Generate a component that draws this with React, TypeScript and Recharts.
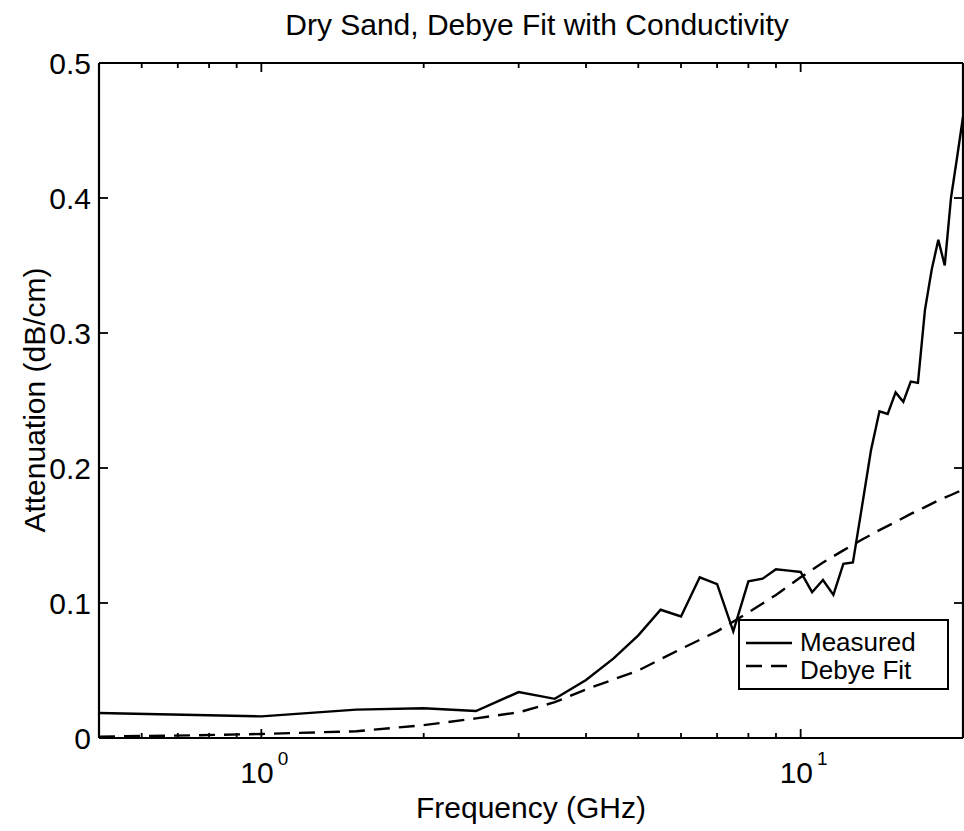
import React from 'react';
import { LineChart, Line, XAxis, YAxis, Legend } from 'recharts';

const measuredFreq = [0.5, 1, 1.5, 2, 2.5, 3, 3.5, 4, 4.5, 5, 5.5, 6, 6.5, 7, 7.5, 8, 8.5, 9, 9.5, 10, 10.5, 11, 11.5, 12, 12.5, 13, 13.5, 14, 14.5, 15, 15.5, 16, 16.5, 17, 17.5, 18, 18.5, 19, 19.5, 20];
const measuredAtt = [0.0185, 0.016, 0.021, 0.022, 0.02, 0.034, 0.029, 0.043, 0.059, 0.076, 0.095, 0.09, 0.119, 0.114, 0.079, 0.116, 0.118, 0.125, 0.124, 0.123, 0.108, 0.117, 0.106, 0.129, 0.13, 0.172, 0.213, 0.242, 0.24, 0.256, 0.249, 0.264, 0.263, 0.317, 0.347, 0.369, 0.35, 0.4, 0.43, 0.46];

const debyeFreq = [0.5, 0.75, 1, 1.5, 2, 2.5, 3, 3.5, 4, 5, 6, 7, 8, 9, 10, 11, 12, 13, 14, 15, 16, 17, 18, 19, 20];
const debyeAtt = [0.001, 0.002, 0.003, 0.005, 0.0095, 0.0145, 0.019, 0.0265, 0.036, 0.05, 0.066, 0.079, 0.093, 0.106, 0.119, 0.13, 0.139, 0.147, 0.154, 0.16, 0.166, 0.171, 0.176, 0.18, 0.184];

const xTicks = [0.6, 0.7, 0.8, 0.9, 1, 2, 3, 4, 5, 6, 7, 8, 9, 10];
const xMajor = [1, 10];
const xMajorExp = ['0', '1'];
const yTicks = [0, 0.1, 0.2, 0.3, 0.4, 0.5];
const yTickLabels = ['0', '0.1', '0.2', '0.3', '0.4', '0.5'];

const title = 'Dry Sand, Debye Fit with Conductivity';
const xTitle = 'Frequency (GHz)';
const yTitle = 'Attenuation (dB/cm)';
const seriesNames = ['Measured', 'Debye Fit'];

const measuredData = measuredFreq.map((f, i) => ({ f, v: measuredAtt[i] }));
const debyeData = debyeFreq.map((f, i) => ({ f, v: debyeAtt[i] }));

const FONT = '"Liberation Sans", Arial, Helvetica, sans-serif';

const BottomTick = (props: any) => {
  const { x, y, payload } = props;
  const idx = xMajor.indexOf(payload.value);
  const major = idx >= 0;
  return (
    <g>
      <line x1={x} x2={x} y1={y} y2={y - (major ? 9 : 5)} stroke="#000" strokeWidth={1.8} />
      {major && (
        <text x={x + 3} y={y + 45} textAnchor="middle" fill="#000" fontFamily={FONT} fontSize={30}>
          <tspan>10</tspan>
          <tspan dx={4} dy={-18} fontSize={19}>{xMajorExp[idx]}</tspan>
        </text>
      )}
    </g>
  );
};

const TopTick = (props: any) => {
  const { x, y, payload } = props;
  const major = xMajor.indexOf(payload.value) >= 0;
  return <line x1={x} x2={x} y1={y} y2={y + (major ? 9 : 5)} stroke="#000" strokeWidth={1.8} />;
};

const LeftTick = (props: any) => {
  const { x, y, payload, index } = props;
  return (
    <g>
      <line x1={x} x2={x + 9} y1={y} y2={y} stroke="#000" strokeWidth={1.8} />
      <text x={x - 8} y={y + 11} textAnchor="end" fill="#000" fontFamily={FONT} fontSize={30}>
        {yTickLabels[yTicks.indexOf(payload.value)] ?? yTickLabels[index]}
      </text>
    </g>
  );
};

const RightTick = (props: any) => {
  const { x, y } = props;
  return <line x1={x} x2={x - 9} y1={y} y2={y} stroke="#000" strokeWidth={1.8} />;
};

const LegendBox = () => (
  <svg width={211} height={71} style={{ display: 'block' }}>
    <rect x={1} y={1} width={209} height={69} fill="#fff" stroke="#000" strokeWidth={2} />
    <line x1={8} x2={54} y1={24} y2={24} stroke="#000" strokeWidth={2.4} />
    <line x1={8} x2={54} y1={47} y2={47} stroke="#000" strokeWidth={2.4} strokeDasharray="16 9" />
    <text x={62} y={32} fontFamily={FONT} fontSize={26} fill="#000">{seriesNames[0]}</text>
    <text x={62} y={60} fontFamily={FONT} fontSize={26} fill="#000">{seriesNames[1]}</text>
  </svg>
);

export default function App() {
  return (
    <div style={{ width: 964, height: 831, background: '#fff', position: 'relative' }}>
      <style>{`body{margin:0;background:#fff}`}</style>
      <LineChart width={964} height={831} margin={{ top: 62, right: 0, bottom: 0, left: 0 }}>
        <XAxis
          xAxisId="bottom"
          dataKey="f"
          type="number"
          scale="log"
          domain={[0.5, 20]}
          allowDataOverflow
          ticks={xTicks}
          interval={0}
          height={93}
          tickSize={0}
          tickMargin={0}
          tickLine={false}
          axisLine={{ stroke: '#000', strokeWidth: 2.2 }}
          tick={<BottomTick />}
          label={{
            content: () => (
              <text x={531} y={818} textAnchor="middle" fill="#000" fontFamily={FONT} fontSize={30}>
                {xTitle}
              </text>
            ),
          }}
        />
        <XAxis
          xAxisId="top"
          orientation="top"
          dataKey="f"
          type="number"
          scale="log"
          domain={[0.5, 20]}
          allowDataOverflow
          ticks={xTicks}
          interval={0}
          height={1}
          tickSize={0}
          tickMargin={0}
          tickLine={false}
          axisLine={{ stroke: '#000', strokeWidth: 2.2 }}
          tick={<TopTick />}
          label={{
            content: () => (
              <text x={537} y={35} textAnchor="middle" fill="#000" fontFamily={FONT} fontSize={30}>
                {title}
              </text>
            ),
          }}
        />
        <YAxis
          yAxisId="left"
          type="number"
          domain={[0, 0.5]}
          allowDataOverflow
          ticks={yTicks}
          interval={0}
          width={99}
          tickSize={0}
          tickMargin={0}
          tickLine={false}
          axisLine={{ stroke: '#000', strokeWidth: 2.2 }}
          tick={<LeftTick />}
          label={{
            content: () => (
              <text
                x={45}
                y={400}
                transform="rotate(-90 45 400)"
                textAnchor="middle"
                fill="#000"
                fontFamily={FONT}
                fontSize={30}
              >
                {yTitle}
              </text>
            ),
          }}
        />
        <YAxis
          yAxisId="right"
          orientation="right"
          type="number"
          domain={[0, 0.5]}
          allowDataOverflow
          ticks={yTicks}
          interval={0}
          width={1}
          tickSize={0}
          tickMargin={0}
          tickLine={false}
          axisLine={{ stroke: '#000', strokeWidth: 2.2 }}
          tick={<RightTick />}
        />
        <Line
          xAxisId="bottom"
          yAxisId="left"
          data={measuredData}
          dataKey="v"
          name={seriesNames[0]}
          type="linear"
          stroke="#000"
          strokeWidth={2.4}
          dot={false}
          isAnimationActive={false}
        />
        <Line
          xAxisId="bottom"
          yAxisId="left"
          data={debyeData}
          dataKey="v"
          name={seriesNames[1]}
          type="linear"
          stroke="#000"
          strokeWidth={2.4}
          strokeDasharray="16 9"
          dot={false}
          isAnimationActive={false}
        />
        <Legend
          layout="horizontal"
          verticalAlign="middle"
          align="center"
          content={() => <LegendBox />}
          wrapperStyle={{ position: 'absolute', left: 738, top: 619, width: 211, height: 71 }}
        />
      </LineChart>
    </div>
  );
}
